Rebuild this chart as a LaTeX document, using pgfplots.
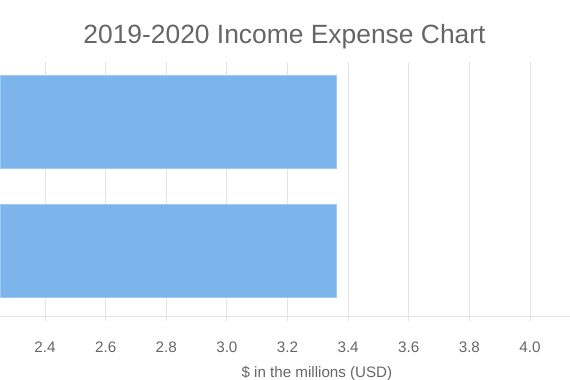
\documentclass[border=0pt]{standalone}
\usepackage{pgfplots}
\pgfplotsset{compat=1.18}
\usepackage{fontspec}
\setmainfont{Liberation Sans}
\definecolor{barblue}{RGB}{124,181,236}
\definecolor{barborder}{RGB}{160,200,242}
\definecolor{txtgray}{RGB}{102,102,102}
\definecolor{gridgray}{RGB}{228,228,228}
\begin{document}
\begin{tikzpicture}
\path[use as bounding box] (0,0) rectangle (570bp,380bp);
\begin{axis}[
  at={(0,64bp)}, anchor=south west,
  scale only axis, width=570bp, height=254bp,
  xbar, bar width=0.72,
  xmin=2.2515, xmax=4.132, ymin=-0.505, ymax=1.464,
  axis x line=bottom, axis y line=none,
  axis line style={gridgray, line width=0.8pt, -},
  xtick={2.4,2.6,2.8,3.0,3.2,3.4,3.6,3.8,4.0},
  xticklabels={2.4,2.6,2.8,3.0,3.2,3.4,3.6,3.8,4.0},
  ytick=\empty,
  xmajorgrids, grid style={gridgray, line width=0.8pt},
  tick align=outside, major tick length=5bp,
  tick style={gridgray, line width=0.8pt},
  xticklabel style={font=\fontsize{15.3}{18}\selectfont, text=txtgray, anchor=base, yshift=-31bp},
  xlabel={\$ in the millions (USD)},
  xlabel style={at={(rel axis cs:0.556,0)}, anchor=base, yshift=-61bp, font=\fontsize{15.2}{18}\selectfont, text=txtgray},
]
\addplot[fill=barblue, draw=barborder, line width=0.8pt] coordinates {(3.362,0) (3.362,1)};
\end{axis}
\node[anchor=base, font=\fontsize{26.5}{30}\selectfont, text=txtgray, inner sep=0pt] at (284.5bp,336.4bp) {2019-2020 Income Expense Chart};
\end{tikzpicture}
\end{document}
